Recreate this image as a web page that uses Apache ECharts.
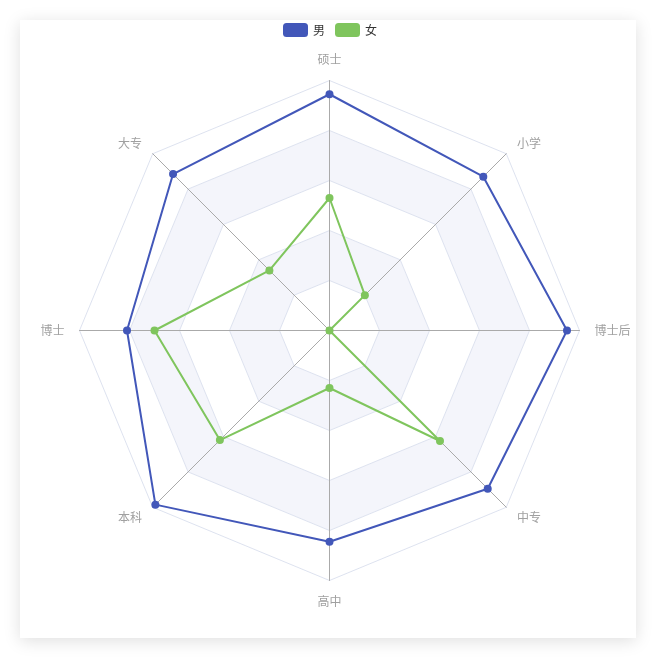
<!DOCTYPE html>
<html><head><meta charset="utf-8">
<script src="https://cdn.jsdelivr.net/npm/echarts@6/dist/echarts.min.js"></script>
<style>
html,body{margin:0;padding:0;background:#fff;width:656px;height:659px;overflow:hidden;}
#card{position:absolute;left:20px;top:20px;width:616px;height:618px;background:#fff;box-shadow:0 3px 16px rgba(0,0,0,0.13);}
#chart{width:616px;height:618px;}
</style></head>
<body><div id="card"><div id="chart"></div></div>
<script>
var indicators = ['硕士','大专','博士','本科','高中','中专','博士后','小学'];
var maxValue = 100;
var seriesNames = ['男','女'];
var maleValues = [94.5, 88.5, 81, 98.5, 84.5, 89.5, 95, 87];
var femaleValues = [53, 34, 70, 62, 23, 62.5, 0, 20];
var colors = ['#4257b9','#7fc55d'];

var chart = echarts.init(document.getElementById('chart'));
chart.setOption({
  animation:false,
  color: colors,
  textStyle:{fontFamily:'"Noto Sans CJK SC","Noto Sans",sans-serif'},
  legend:{
    top:3, left:263, padding:0, itemWidth:25, itemHeight:14, itemGap:10,
    data: seriesNames,
    textStyle:{color:'#333', fontSize:12}
  },
  radar:{
    center:[309.5,310.5],
    radius:250,
    splitNumber:5,
    shape:'polygon',
    indicator: indicators.map(function(n){return {name:n, max:maxValue, min:0};}),
    axisName:{color:'#a0a0a0', fontSize:12},
    nameGap:15,
    axisLine:{lineStyle:{color:'#aaaaaa'}},
    splitLine:{lineStyle:{color:'#dde2ef'}},
    splitArea:{areaStyle:{color:['#ffffff','#f4f5fb','#ffffff','#f4f5fb','#ffffff']}}
  },
  series:[{
    type:'radar',
    symbol:'circle',
    symbolSize:8,
    data:[
      {name:seriesNames[0], value:maleValues, lineStyle:{width:2}},
      {name:seriesNames[1], value:femaleValues, lineStyle:{width:2}}
    ]
  }]
});
</script></body></html>
